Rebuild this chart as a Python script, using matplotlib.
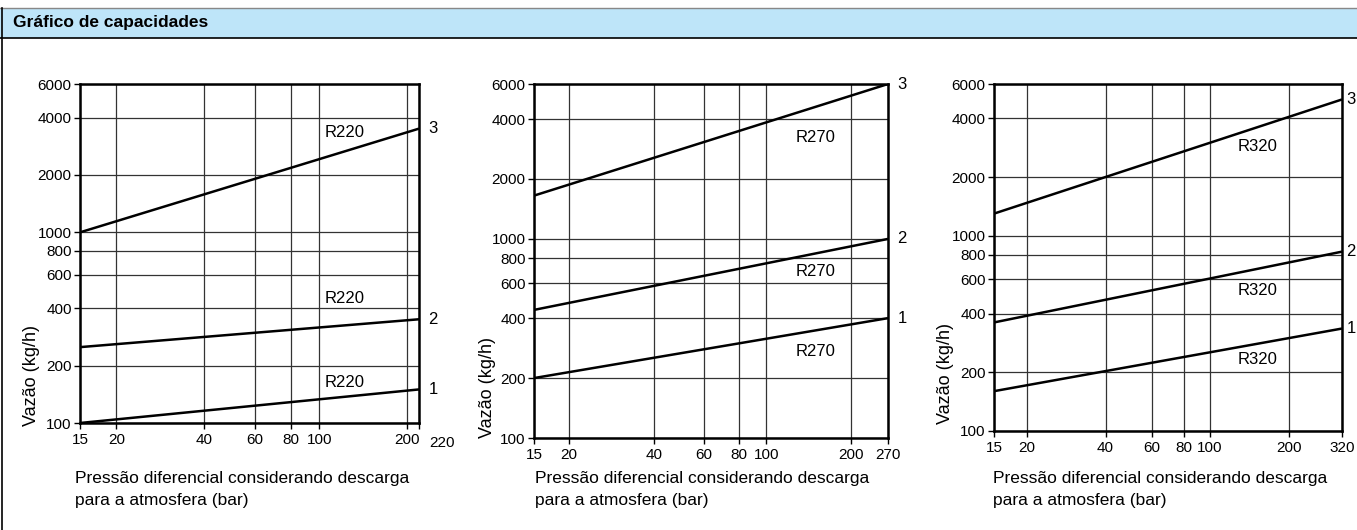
import matplotlib
matplotlib.use("Agg")
import matplotlib.pyplot as plt
from matplotlib.patches import Rectangle
from matplotlib.lines import Line2D

# =============================================================================
# DATA
# =============================================================================

Y_TICKS  = [100, 200, 400, 600, 800, 1000, 2000, 4000, 6000]
Y_LABELS = ["100", "200", "400", "600", "800", "1000", "2000", "4000", "6000"]

# R220
r220_x      = [15, 220]
r220_curve1 = [100, 150]
r220_curve2 = [250, 350]
r220_curve3 = [1000, 3500]
r220_xticks = [15, 20, 40, 60, 80, 100, 200, 220]
r220_xlabels = ["15", "20", "40", "60", "80", "100", "200", "220"]

# R270
r270_x      = [15, 270]
r270_curve1 = [200, 400]
r270_curve2 = [440, 1000]
r270_curve3 = [1650, 6000]
r270_xticks = [15, 20, 40, 60, 80, 100, 200, 270]
r270_xlabels = ["15", "20", "40", "60", "80", "100", "200", "270"]

# R320
r320_x      = [15, 320]
r320_curve1 = [160, 335]
r320_curve2 = [360, 830]
r320_curve3 = [1300, 5000]
r320_xticks = [15, 20, 40, 60, 80, 100, 200, 320]
r320_xlabels = ["15", "20", "40", "60", "80", "100", "200", "320"]

CURVE_NAMES = ["1", "2", "3"]

TITLE  = "Gráfico de capacidades"
YLABEL = "Vazão (kg/h)"
XLABEL = "Pressão diferencial considerando descarga\npara a atmosfera (bar)"

# =============================================================================
# LAYOUT (pixels)
# =============================================================================

W, H = 1357, 530
FONT = ["Liberation Sans", "DejaVu Sans"]
plt.rcParams["font.family"] = FONT

fig = plt.figure(figsize=(W / 100, H / 100), dpi=100)
fig.patch.set_facecolor("white")


def fx(x):
    return x / W


def fy(y):
    return 1 - y / H


def px_axes(x0, y0, x1, y1):
    return fig.add_axes([fx(x0), fy(y1), fx(x1 - x0), (y1 - y0) / H])


# header band + page border
fig.patches.append(Rectangle((0, fy(37.5)), 1, 30 / H, transform=fig.transFigure,
                             facecolor="#bee5f9", edgecolor="none", zorder=0))
fig.lines.append(Line2D([0, 1], [fy(7.5), fy(7.5)], transform=fig.transFigure,
                        color="#888888", lw=1.0))
fig.lines.append(Line2D([0, 1], [fy(37.5), fy(37.5)], transform=fig.transFigure,
                        color="black", lw=1.2))
fig.lines.append(Line2D([fx(2), fx(2)], [fy(7.5), 0], transform=fig.transFigure,
                        color="black", lw=1.2))
fig.text(fx(13), fy(23), TITLE, fontsize=12.5, fontweight="bold", va="center", ha="left",
         family=["Liberation Sans Narrow", "Liberation Sans", "DejaVu Sans"])

panels = [
    dict(box=(80, 84, 419, 423), x=r220_x, curves=[r220_curve1, r220_curve2, r220_curve3],
         xticks=r220_xticks, xlabels=r220_xlabels, name="R220",
         name_pos=[(0.782, 0.118), (0.782, 0.366), (0.782, 0.858)],
         ylab=(32, 375), xlab_x=75, shift_last=23, num_off=10),
    dict(box=(534, 84, 888, 438), x=r270_x, curves=[r270_curve1, r270_curve2, r270_curve3],
         xticks=r270_xticks, xlabels=r270_xlabels, name="R270",
         name_pos=[(0.794, 0.243), (0.794, 0.469), (0.794, 0.850)],
         ylab=(488, 387), xlab_x=535, shift_last=0, num_off=10),
    dict(box=(994, 84, 1342, 431), x=r320_x, curves=[r320_curve1, r320_curve2, r320_curve3],
         xticks=r320_xticks, xlabels=r320_xlabels, name="R320",
         name_pos=[(0.756, 0.207), (0.756, 0.406), (0.756, 0.821)],
         ylab=(945, 373), xlab_x=993, shift_last=0, num_off=6.5),
]

for p in panels:
    ax = px_axes(*p["box"])
    ax.set_xscale("log")
    ax.set_yscale("log")
    ax.set_xlim(p["x"][0], p["x"][-1])
    ax.set_ylim(Y_TICKS[0], Y_TICKS[-1])

    ax.set_yticks(Y_TICKS)
    ax.set_yticklabels(Y_LABELS)
    ax.set_xticks(p["xticks"])
    xl = list(p["xlabels"])
    if p["shift_last"]:
        last = xl[-1]
        xl[-1] = ""
    ax.set_xticklabels(xl)
    ax.minorticks_off()
    ax.tick_params(axis="both", direction="out", length=4, width=1.0, labelsize=11,
                   color="black")
    ax.tick_params(axis="y", pad=2)
    ax.tick_params(axis="x", pad=3.5)

    ax.grid(True, which="major", color="#333333", lw=0.9)
    ax.set_axisbelow(True)
    for s in ax.spines.values():
        s.set_linewidth(1.8)
        s.set_color("black")

    for i, ys in enumerate(p["curves"]):
        ax.plot(p["x"], ys, color="black", lw=1.8, solid_capstyle="butt", zorder=3)
        ax.annotate(CURVE_NAMES[i], (p["x"][-1], ys[-1]), xytext=(p["num_off"], 0),
                    textcoords="offset points", ha="center", va="center",
                    fontsize=12, annotation_clip=False)
        nx, ny = p["name_pos"][i]
        ax.text(nx, ny, p["name"], transform=ax.transAxes, ha="center", va="center",
                fontsize=12)

    if p["shift_last"]:
        ax.annotate(last, (p["x"][-1], Y_TICKS[0]), xytext=(p["shift_last"] * 0.72, -9),
                    textcoords="offset points", ha="center", va="top",
                    fontsize=11, annotation_clip=False)

    fig.text(fx(p["ylab"][0]), fy(p["ylab"][1]), YLABEL, rotation=90,
             ha="center", va="center", fontsize=13)
    fig.text(fx(p["xlab_x"]), fy(471), XLABEL, ha="left", va="top",
             fontsize=12.5, linespacing=1.55)

fig.savefig("out.png", dpi=100)
